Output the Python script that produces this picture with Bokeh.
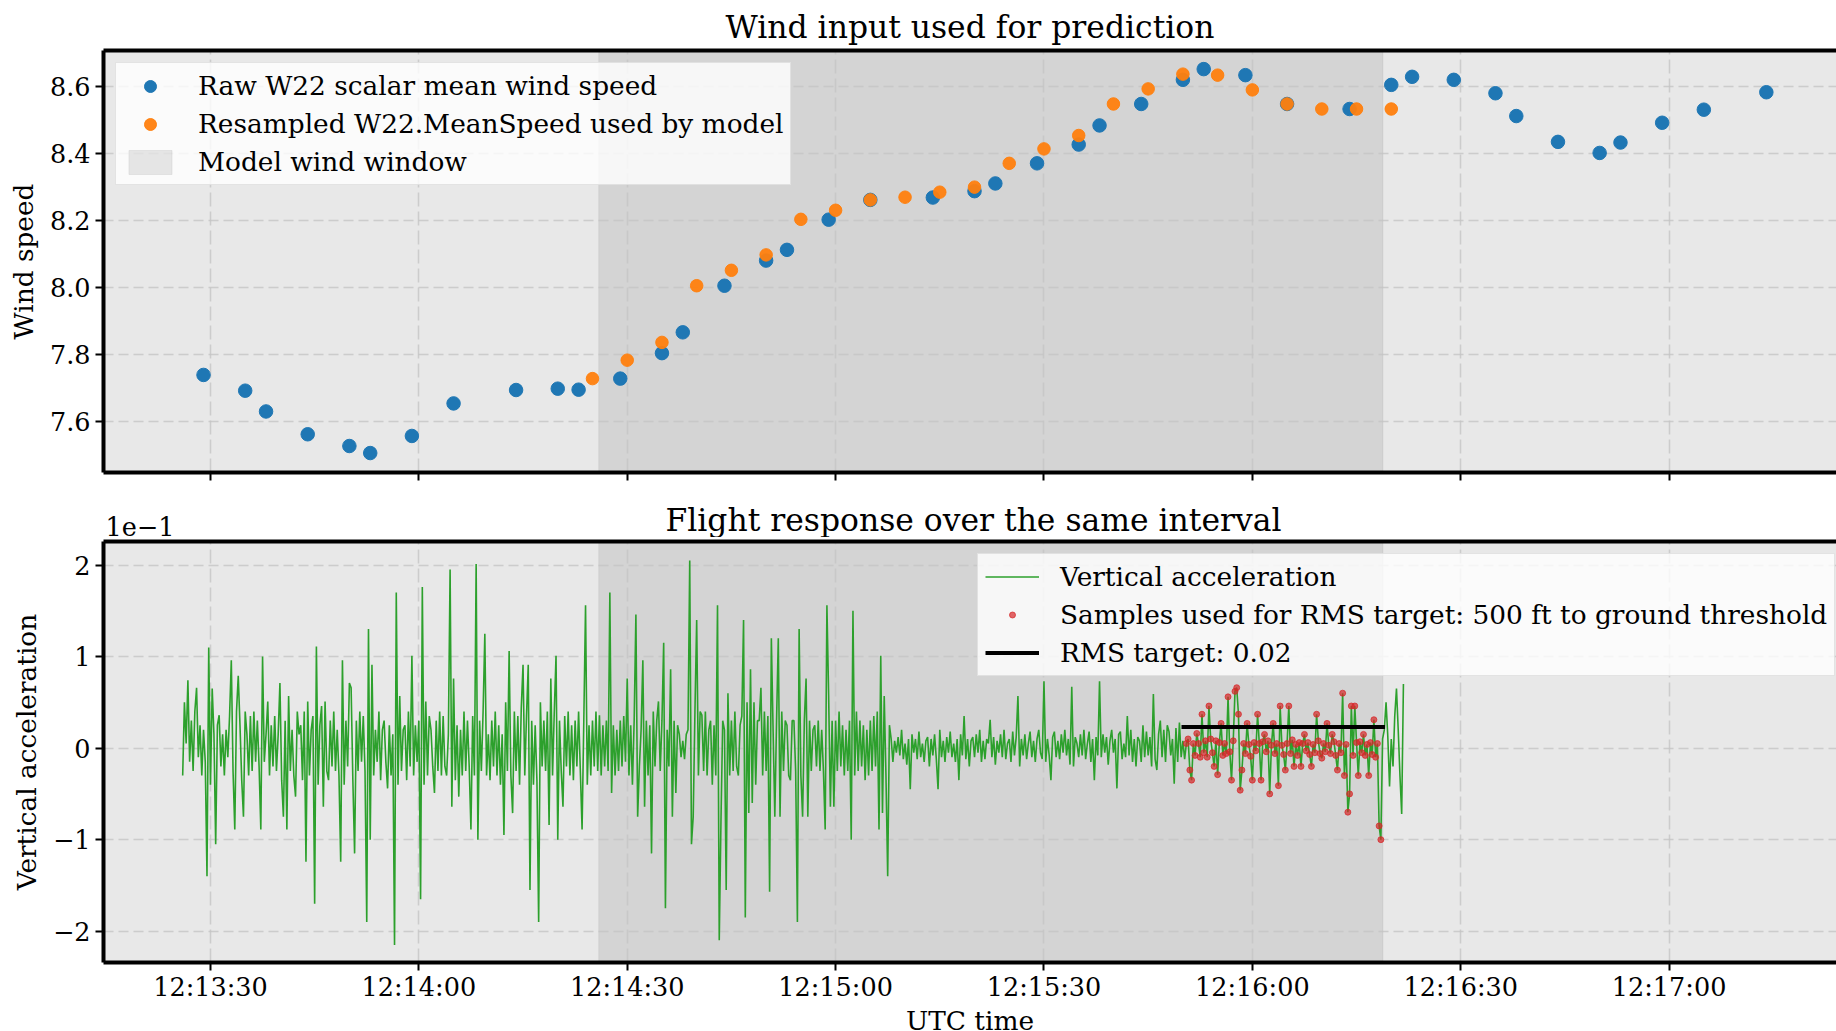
from bokeh.plotting import figure
from bokeh.layouts import column
from bokeh.models import Range1d, FixedTicker, LinearAxis, Legend, LegendItem
from bokeh.core.properties import value
from bokeh.embed import file_html
from bokeh.resources import INLINE

FONT = "DejaVu Serif"

# ---------------- data ----------------
raw_times = ["12:13:29", "12:13:35", "12:13:38", "12:13:44", "12:13:50", "12:13:53",
             "12:13:59", "12:14:05", "12:14:14", "12:14:20", "12:14:23", "12:14:29",
             "12:14:35", "12:14:38", "12:14:44", "12:14:50", "12:14:53", "12:14:59",
             "12:15:05", "12:15:14", "12:15:20", "12:15:23", "12:15:29", "12:15:35",
             "12:15:38", "12:15:44", "12:15:50", "12:15:53", "12:15:59", "12:16:05",
             "12:16:14", "12:16:20", "12:16:23", "12:16:29", "12:16:35", "12:16:38",
             "12:16:44", "12:16:50", "12:16:53", "12:16:59", "12:17:05", "12:17:14"]
raw_speed = [7.740, 7.693, 7.631, 7.563, 7.528, 7.507, 7.558, 7.655, 7.695, 7.699,
             7.696, 7.729, 7.805, 7.867, 8.006, 8.081, 8.113, 8.203, 8.262, 8.269,
             8.288, 8.311, 8.371, 8.427, 8.484, 8.548, 8.620, 8.652, 8.634, 8.548,
             8.533, 8.605, 8.629, 8.620, 8.580, 8.512, 8.435, 8.402, 8.433, 8.492,
             8.531, 8.583]

resampled_times = ["12:14:25", "12:14:30", "12:14:35", "12:14:40", "12:14:45", "12:14:50",
                   "12:14:55", "12:15:00", "12:15:05", "12:15:10", "12:15:15", "12:15:20",
                   "12:15:25", "12:15:30", "12:15:35", "12:15:40", "12:15:45", "12:15:50",
                   "12:15:55", "12:16:00", "12:16:05", "12:16:10", "12:16:15", "12:16:20"]
resampled_speed = [7.729, 7.784, 7.837, 8.006, 8.052, 8.098, 8.204, 8.231, 8.262, 8.270,
                   8.285, 8.300, 8.371, 8.414, 8.454, 8.548, 8.593, 8.637, 8.634, 8.590,
                   8.548, 8.533, 8.533, 8.533]

window_start = "12:14:25.9"
window_end = "12:16:18.8"

# vertical acceleration, sampled every 0.25 s from acc_start, in thousandths
acc_start = "12:13:26"
acc_period_s = 0.25
vacc_milli = [
    -30, 50, 5, 74, -15, 30, -25, 40, 66, -10, 25, -30, 20, -15, -140, 110, -40, 65, 15, -105,
    25, 36, -20, 15, -30, 20, -10, 35, 96, -25, -89, 40, 79, 25, -35, -75, 40, 15, -30, 35,
    -25, 40, -15, 30, -20, -89, 100, -15, 15, 51, -30, 25, -20, 35, -25, 15, 71, -35, -75, 30,
    -89, 57, -25, 20, -30, -53, 40, 15, 25, -35, 40, -124, 51, -30, 20, 35, -170, 111, -40, 25,
    46, -64, 51, -25, -35, 30, -20, 40, -25, 20, -30, -124, 96, -40, 30, -20, 71, 66, -35, -115,
    30, -25, 40, -15, 35, -25, -190, 130, -100, 91, -30, 20, -15, 40, -35, 20, 30, -15, -44, 25,
    -30, 15, -215, 170, -40, 57, -25, 20, 25, -35, 40, -20, 101, -30, 25, -15, 30, -165, 176, -40,
    51, -30, 35, 20, -20, -49, 30, -25, 40, -30, 35, -20, -30, 15, 195, -64, 76, -35, 25, -53,
    20, -30, 40, -25, 30, -20, -89, 35, -30, 201, -100, 30, -25, 40, 125, -30, 15, -35, 30, -20,
    40, -30, 25, -40, 15, -95, 50, -25, 106, -30, -71, 40, -25, 35, -40, 45, 91, -30, 35, 91,
    -155, 30, -40, 25, -35, -190, 50, -20, 30, -25, 40, -84, 76, -30, 40, 101, -100, 30, -25, -64,
    35, -20, 40, -30, 25, -35, 30, -20, 40, -25, -89, 30, 156, -40, 25, -30, 30, -20, 40, -25,
    36, -30, 25, -20, 30, -25, 170, -49, 25, -30, 20, -25, 30, -20, 35, -15, 76, -30, 25, -40,
    30, 146, -75, -20, 20, 96, -64, 30, -30, 25, -115, 40, -20, 30, 51, -25, 30, 115, -175, 20,
    -20, 86, -75, 30, -49, 25, 15, -10, 8, -12, 15, 20, 205, -105, -75, 40, 140, -30, 40, 36,
    -25, 40, -30, 20, 30, -40, 25, -30, 156, -210, -78, 30, 20, -155, 60, -30, 30, -25, 40, -20,
    -30, 25, 35, 140, -185, 50, -71, 86, -60, 50, -40, 30, 30, 66, -30, 40, -25, 35, -157, 120,
    20, -75, 30, 120, -75, 40, -25, 30, 25, -30, -35, 30, 30, -25, -190, 130, -30, -75, 30, 76,
    -75, 30, -25, 20, 25, -20, 30, -25, 20, -25, -89, 156, 57, -64, 30, -64, 30, -25, 40, -20,
    25, -30, 20, -25, 30, -100, 150, -30, 40, -25, 30, -20, 25, -35, 20, -30, 30, -25, 35, -20,
    40, -89, 101, -71, 57, -30, -140, 25, 10, -15, 8, -5, 12, -8, 20, -12, 5, -18, 10, -45,
    15, -5, 10, -12, 18, -10, 5, -15, 8, 12, -20, 10, -8, 15, -12, -45, 20, -10, 8, -15,
    12, -5, 18, -10, 5, -15, 10, -35, 15, -8, 35, -12, 10, -20, 8, 12, -10, 15, -5, 20,
    -15, 8, -12, 10, 5, 31, -10, 12, -18, 8, -5, 15, -10, 20, -12, 5, 10, -15, 18, -8,
    12, 57, -20, 10, -8, 15, -12, 5, 18, -10, 8, -15, 10, 20, -5, -12, 73, -15, 10, -8,
    -35, 12, 18, -10, 8, -12, 15, -5, 20, -8, 10, -18, 67, -20, 12, 5, -10, 15, -8, 20,
    -12, 5, 18, -15, 10, -35, 12, -8, 73, -10, 15, -5, 12, -18, 8, 20, -5, 10, -44, 15,
    18, -12, 5, -10, 35, -8, 20, -15, 10, -20, 12, 8, -15, 25, -10, 18, -8, 12, -20, 59,
    -12, -24, 15, 30, -10, 20, -15, 25, 18, -8, 10, -39, 22, -15, 28, -10, 8, -12, 5, 10,
    -24, -35, 5, -8, 16, 5, -10, 37, -5, 8, -10, 46, 10, -5, -20, 8, -29, 6, 27, -8,
    5, -6, 56, -4, -35, 8, 62, 66, 37, -46, -24, 5, -6, 27, 4, -9, -35, 6, -3, 37,
    5, -35, 7, 15, -4, 8, -50, 3, 27, -6, 5, -41, 46, 3, -7, -24, 5, 46, -6, 9,
    -20, 4, -8, 6, -20, 5, 15, -3, 6, -7, -20, 4, -5, 37, 8, -6, -11, 5, -4, 27,
    3, -6, 15, 7, -8, -24, 5, -5, 60, -30, 4, -70, -50, 46, -8, 46, 6, -30, 7, -5,
    15, -8, 4, -30, 6, -7, 31, -10, 5, -85, -100, 10, 20, 50, 13, -42, 10, -20, 35, 65,
    20, -30, -72, 70,
]

rms_samples_start = "12:15:50.5"
rms_samples_end = "12:16:18.5"
rms_line_start = "12:15:49.8"
rms_line_end = "12:16:19.1"
rms_target = 0.023

x_limits = ("12:13:14.6", "12:17:24.1")
x_tick_labels = ["12:13:30", "12:14:00", "12:14:30", "12:15:00",
                 "12:15:30", "12:16:00", "12:16:30", "12:17:00"]
wind_limits = (7.449, 8.7075)
wind_ticks = [7.6, 7.8, 8.0, 8.2, 8.4, 8.6]
wind_tick_labels = ["7.6", "7.8", "8.0", "8.2", "8.4", "8.6"]
acc_limits = (-0.2342, 0.2257)
acc_ticks = [-0.2, -0.1, 0.0, 0.1, 0.2]
acc_tick_labels = ["\u22122", "\u22121", "0", "1", "2"]
acc_offset_text = "1e\u22121"

titles = ["Wind input used for prediction", "Flight response over the same interval"]


def secs(s):
    h, m, sec = s.split(":")
    return int(h) * 3600 + int(m) * 60 + float(sec)


raw_x = [secs(t) for t in raw_times]
res_x = [secs(t) for t in resampled_times]
acc_x = [secs(acc_start) + i * acc_period_s for i in range(len(vacc_milli))]
acc_y = [v / 1000.0 for v in vacc_milli]
r0, r1 = secs(rms_samples_start), secs(rms_samples_end)
red_x = [x for x, y in zip(acc_x, acc_y) if r0 <= x <= r1]
red_y = [y for x, y in zip(acc_x, acc_y) if r0 <= x <= r1]

xr = Range1d(secs(x_limits[0]), secs(x_limits[1]))
x_tick_secs = [int(secs(t)) for t in x_tick_labels]

BG = "#e8e8e8"
TICK_PX = "25.5px"
LABEL_PX = "26.4px"
TITLE_PX = "31.4px"
LEFT = 103
FRAME_W = 1733


def style(p, ylabel, yticks, ylabels, show_xlabels, limits):
    for ax in (p.xaxis[0], p.yaxis[0]):
        ax.axis_line_width = 4
        ax.axis_line_color = "black"
        ax.major_tick_line_width = 2
        ax.major_tick_line_color = "black"
        ax.major_tick_out = 8
        ax.major_tick_in = 0
        ax.minor_tick_line_color = None
        ax.major_label_text_font = FONT
        ax.major_label_text_font_size = TICK_PX
        ax.major_label_text_color = "black"
        ax.axis_label_text_font = FONT
        ax.axis_label_text_font_size = LABEL_PX
        ax.axis_label_text_font_style = "normal"
        ax.axis_label_text_color = "black"
    p.xaxis[0].ticker = FixedTicker(ticks=x_tick_secs)
    p.xaxis[0].major_label_overrides = {k: v for k, v in zip(x_tick_secs, x_tick_labels)}
    if show_xlabels:
        p.xaxis[0].major_label_standoff = 1
        p.xaxis[0].axis_label = "UTC time"
        p.xaxis[0].axis_label_standoff = 0
    else:
        p.xaxis[0].major_label_text_color = None
        p.xaxis[0].major_label_text_font_size = "1px"
        p.xaxis[0].major_label_standoff = 0
    p.yaxis[0].ticker = FixedTicker(ticks=yticks)
    p.yaxis[0].major_label_overrides = {k: v for k, v in zip(yticks, ylabels)}
    p.yaxis[0].major_label_standoff = 5
    p.yaxis[0].axis_label = ylabel
    p.yaxis[0].axis_label_standoff = 8
    # top spine
    top = LinearAxis(ticker=FixedTicker(ticks=[]), axis_line_width=4, axis_line_color="black",
                     major_tick_line_color=None, minor_tick_line_color=None,
                     major_label_text_color=None, major_label_text_font_size="1px",
                     major_label_standoff=0)
    p.add_layout(top, "above")
    p.xgrid.grid_line_color = "#c4c4c4"
    p.xgrid.grid_line_alpha = 0.8
    p.xgrid.grid_line_width = 1.5
    p.xgrid.grid_line_dash = "14 5"
    p.ygrid.grid_line_color = "#c4c4c4"
    p.ygrid.grid_line_alpha = 0.8
    p.ygrid.grid_line_width = 1.5
    p.ygrid.grid_line_dash = "10 5"
    # model wind window shading
    return p.quad(left=[secs(window_start)], right=[secs(window_end)],
                  bottom=[limits[0]], top=[limits[1]], fill_color="black",
                  fill_alpha=0.085, line_color="black", line_alpha=0.06,
                  level="underlay")


def legend_common(lg):
    lg.label_text_font = FONT
    lg.label_text_font_size = LABEL_PX
    lg.label_text_color = "black"
    lg.glyph_width = 54
    lg.label_standoff = 21
    lg.label_height = 30
    lg.padding = 7
    lg.spacing = 7
    lg.border_line_color = "#cccccc"
    lg.border_line_width = 1.2
    lg.background_fill_color = "white"
    lg.background_fill_alpha = 0.8


# ---------------- top panel ----------------
p1 = figure(title=titles[0], x_range=xr,
            y_range=Range1d(*wind_limits), frame_width=FRAME_W, frame_height=422,
            min_border_left=LEFT, min_border_right=0, min_border_top=50,
            min_border_bottom=11, output_backend="svg", toolbar_location=None,
            background_fill_color=BG, border_fill_color="white",
            outline_line_color=None)
p1.title.text_font = FONT
p1.title.text_font_size = TITLE_PX
p1.title.text_font_style = "normal"
p1.title.align = "center"
p1.title.text_color = "black"
p1.title.standoff = 11
r_win = style(p1, "Wind speed", wind_ticks, wind_tick_labels, False, wind_limits)

r_raw = p1.scatter(raw_x, raw_speed, size=13.5, marker="circle",
                   fill_color="#1f77b4", line_color="#1f77b4")
r_res = p1.scatter(res_x, resampled_speed, size=12.5, marker="circle",
                   fill_color="#ff7f0e", line_color="#ff7f0e", alpha=0.95)

lg1 = Legend(items=[LegendItem(label="Raw W22 scalar mean wind speed", renderers=[r_raw]),
                    LegendItem(label="Resampled W22.MeanSpeed used by model", renderers=[r_res]),
                    LegendItem(label="Model wind window", renderers=[r_win])],
             location="top_left", margin=12)
legend_common(lg1)
lg1.glyph_height = 30
p1.add_layout(lg1)

# ---------------- header of the bottom panel (title + offset text) ----------------
# the header frame is aligned with the panels' frames (page pixels LEFT .. LEFT+FRAME_W)
hdr = figure(frame_width=FRAME_W, frame_height=54, x_range=Range1d(LEFT, LEFT + FRAME_W),
             y_range=Range1d(0, 54), min_border_left=LEFT, min_border_right=0,
             min_border_top=0, min_border_bottom=0, x_axis_type=None, y_axis_type=None,
             toolbar_location=None, output_backend="svg", outline_line_color=None,
             background_fill_color="white", border_fill_color="white")
hdr.xgrid.visible = False
hdr.ygrid.visible = False
hdr.text(x=[973], y=[18], text=[titles[1]], text_font=value(FONT),
         text_font_size=value(TITLE_PX), text_align="center",
         text_baseline="middle", text_color="black")
hdr.text(x=[LEFT + 2], y=[11], text=[acc_offset_text], text_font=value(FONT),
         text_font_size=value(TICK_PX), text_align="left",
         text_baseline="middle", text_color="black")

# ---------------- bottom panel ----------------
p2 = figure(x_range=xr, y_range=Range1d(*acc_limits), frame_width=FRAME_W, frame_height=421,
            min_border_left=LEFT, min_border_right=0, min_border_top=4,
            min_border_bottom=69, output_backend="svg", toolbar_location=None,
            background_fill_color=BG, border_fill_color="white",
            outline_line_color=None)
style(p2, "Vertical acceleration", acc_ticks, acc_tick_labels, True, acc_limits)

r_acc = p2.line(acc_x, acc_y, line_width=1.6, line_color="#2ca02c")
r_red = p2.scatter(red_x, red_y, size=6, marker="circle", fill_color="#d62728",
                   line_color="#d62728", alpha=0.7)
r_rms = p2.line([secs(rms_line_start), secs(rms_line_end)], [rms_target, rms_target],
                line_width=4, line_color="black")

lg2 = Legend(items=[LegendItem(label="Vertical acceleration", renderers=[r_acc]),
                    LegendItem(label="Samples used for RMS target: 500 ft to ground threshold",
                               renderers=[r_red]),
                    LegendItem(label="RMS target: %.2f" % rms_target, renderers=[r_rms])],
             location=(874, 286), margin=0)
legend_common(lg2)
lg2.glyph_height = 15
p2.add_layout(lg2)

layout = column(p1, hdr, p2, spacing=0)
open("out.html", "w").write(file_html(layout, INLINE))
